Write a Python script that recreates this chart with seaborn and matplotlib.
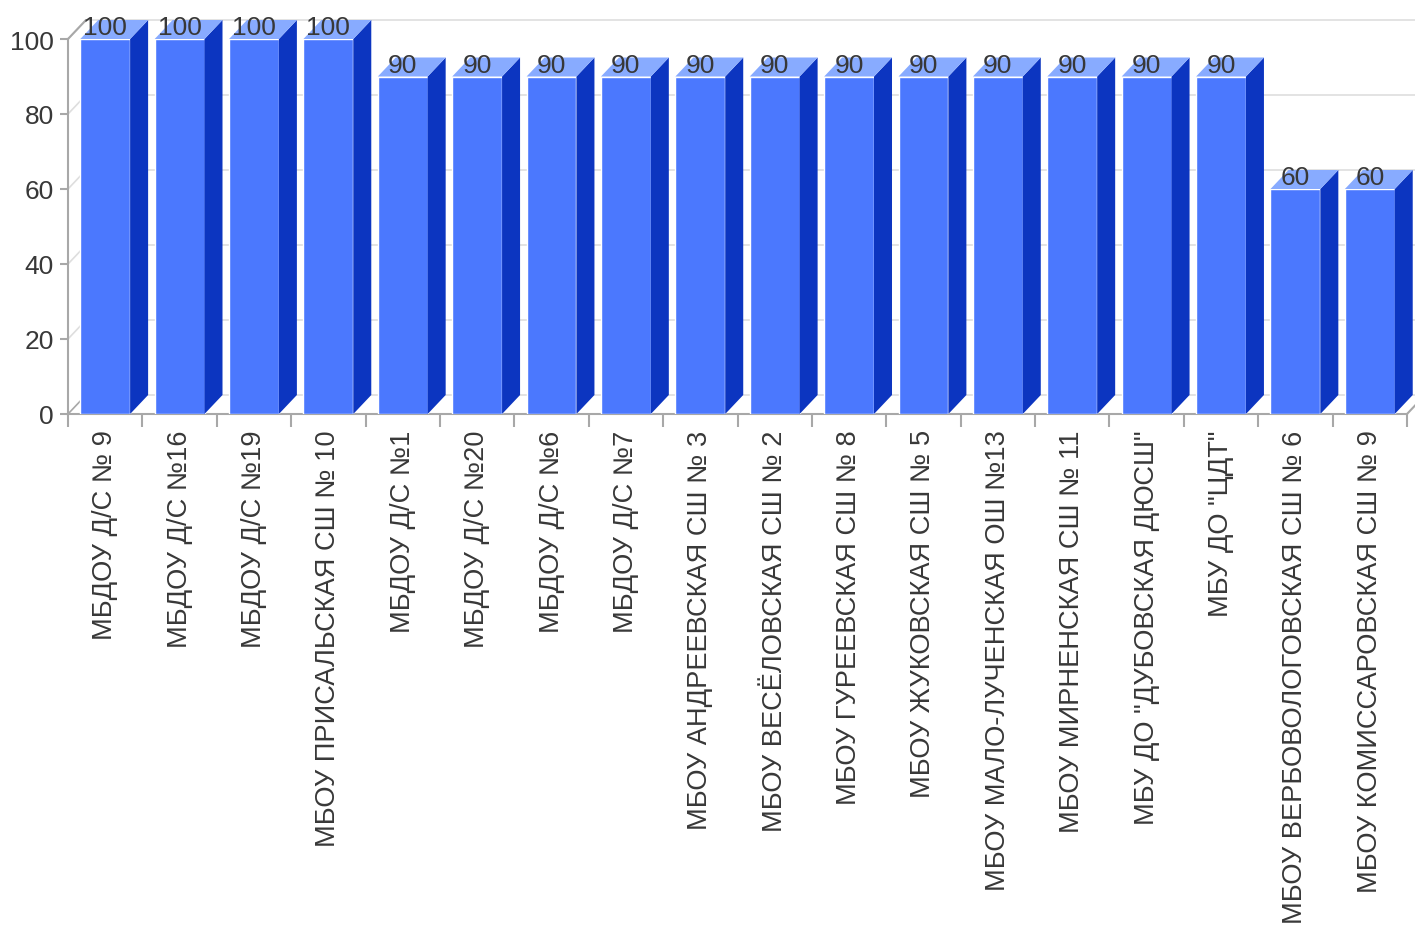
import matplotlib
matplotlib.use("Agg")
import matplotlib.pyplot as plt
import matplotlib.ticker as mticker
from matplotlib.patches import Polygon
import seaborn as sns

SCHOOLS = [
    "МБДОУ Д/С № 9", "МБДОУ Д/С №16", "МБДОУ Д/С №19", "МБОУ ПРИСАЛЬСКАЯ СШ № 10",
    "МБДОУ Д/С №1", "МБДОУ Д/С №20", "МБДОУ Д/С №6", "МБДОУ Д/С №7",
    "МБОУ АНДРЕЕВСКАЯ СШ № 3", "МБОУ ВЕСЁЛОВСКАЯ СШ № 2", "МБОУ ГУРЕЕВСКАЯ СШ № 8",
    "МБОУ ЖУКОВСКАЯ СШ № 5", "МБОУ МАЛО-ЛУЧЕНСКАЯ ОШ №13", "МБОУ МИРНЕНСКАЯ СШ № 11",
    "МБУ ДО \"ДУБОВСКАЯ ДЮСШ\"", "МБУ ДО \"ЦДТ\"", "МБОУ ВЕРБОВОЛОГОВСКАЯ СШ № 6",
    "МБОУ КОМИССАРОВСКАЯ СШ № 9",
]
SCORES = [100, 100, 100, 100, 90, 90, 90, 90, 90, 90, 90, 90, 90, 90, 90, 90, 60, 60]
Y_TICKS = [0, 20, 40, 60, 80, 100]

FRONT = "#4b78fe"
SIDE = "#0c35c0"
TOP = "#88abff"
AXIS = "#a8a8a8"
GRID = "#dedede"
TEXT = "#383838"

sns.set_theme(style="white")
plt.rcParams["font.family"] = ["Liberation Sans", "DejaVu Sans"]

fig = plt.figure(figsize=(14.15, 9.28), dpi=100)
W, H = 1415, 928
ax = fig.add_axes([68 / W, (H - 415) / H, 1339 / W, 375 / H])

sns.barplot(x=SCHOOLS, y=SCORES, color=FRONT, saturation=1, width=0.67, ax=ax, zorder=3)
n = len(SCHOOLS)
ax.set_xlim(-0.5, n - 0.5)
ax.set_ylim(0, 100)

# depth of the fake 3D in data units (18 px right, 19 px up)
bbox = ax.get_window_extent()
dx = 18 * n / bbox.width
dy = 19 * 100 / bbox.height

for i, p in enumerate(ax.patches):
    x0, w, h = p.get_x(), p.get_width(), p.get_height()
    x1 = x0 + w
    ax.add_patch(Polygon([(x1, 0), (x1, h), (x1 + dx, h + dy), (x1 + dx, dy)],
                         closed=True, facecolor=SIDE, edgecolor="none", zorder=3, clip_on=False))
    ax.add_patch(Polygon([(x0, h), (x1, h), (x1 + dx, h + dy), (x0 + dx, h + dy)],
                         closed=True, facecolor=TOP, edgecolor="none", zorder=3, clip_on=False))
    ax.text(i, h + 1.2, f"{h:.0f}", ha="center", va="baseline",
            fontsize=19, color=TEXT, zorder=5, clip_on=False)

# back wall grid and left wall diagonals
for y in Y_TICKS:
    ax.plot([-0.5 + dx, n + 1], [y + dy, y + dy], color=GRID, lw=1.2, zorder=0, clip_on=False)
    ax.plot([-0.5, -0.5 + dx], [y, y + dy], color=GRID if y else AXIS, lw=1.2, zorder=1, clip_on=False)
ax.plot([-0.5, -0.5 + dx], [100, 100 + dy], color=AXIS, lw=1.5, zorder=1, clip_on=False)
ax.plot([n - 0.5, n - 0.5 + dx], [0, dy], color=AXIS, lw=1.5, zorder=1, clip_on=False)

for side in ["top", "right"]:
    ax.spines[side].set_visible(False)
for side in ["left", "bottom"]:
    ax.spines[side].set_color(AXIS)
    ax.spines[side].set_linewidth(1.5)

ax.set_yticks(Y_TICKS)
ax.yaxis.set_major_formatter(mticker.FuncFormatter(lambda v, _: f"{v:.0f}"))
ax.tick_params(axis="y", left=True, length=6, width=1.5, color=AXIS, labelsize=19,
               labelcolor=TEXT, pad=4)

ax.set_xticks(range(n))
ax.set_xticklabels(SCHOOLS, rotation=90, va="top", ha="center")
ax.xaxis.set_minor_locator(mticker.FixedLocator([i - 0.5 for i in range(n + 1)]))
ax.tick_params(axis="x", which="major", bottom=False, length=0, labelsize=19.6,
               labelcolor=TEXT, pad=11)
ax.tick_params(axis="x", which="minor", bottom=True, length=9, width=1.5, color=AXIS)
ax.set_xlabel("")
ax.set_ylabel("")
ax.grid(False)

fig.savefig("out.png", dpi=100)
